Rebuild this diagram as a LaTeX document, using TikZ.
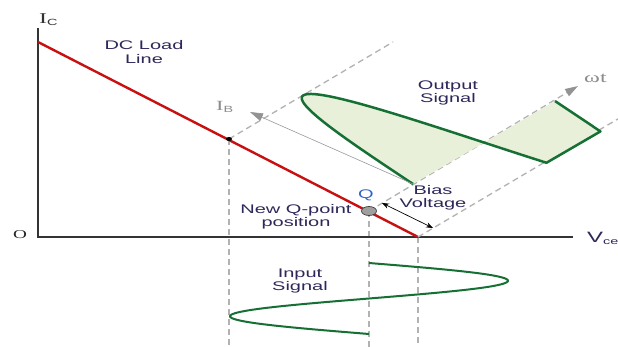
\documentclass[tikz,border=0pt]{standalone}
\usepackage{fontspec}
\setmainfont{Liberation Sans}
\newfontfamily\serifsym{Liberation Serif}
\usetikzlibrary{arrows.meta}
\definecolor{loadred}{RGB}{200,16,16}
\definecolor{sigdark}{RGB}{22,112,52}
\definecolor{sigfill}{RGB}{232,240,218}
\definecolor{guidegray}{RGB}{178,178,178}
\definecolor{txtnavy}{RGB}{45,40,90}
\definecolor{qblue}{RGB}{50,100,200}
\newcommand{\wtxt}[1]{\scalebox{1.6}[1]{#1}}

\begin{document}
\begin{tikzpicture}[
  x=1pt, y=-1pt,
  axis/.style={draw=black!80, line width=1.6pt},
  load/.style={draw=loadred, line width=2.4pt},
  guide/.style={draw=guidegray, line width=1.3pt, dash pattern=on 6pt off 4pt},
  wave/.style={draw=sigdark, line width=2.5pt, line join=round},
  ibaxis/.style={draw=gray!80, line width=0.6pt, -{Triangle[width=8pt,length=13pt,color=gray!85]}},
  bias/.style={draw=black, line width=0.7pt, {Stealth[length=7pt]}-{Stealth[length=7pt]}},
  lbl/.style={align=center, text=txtnavy, inner sep=0pt, font=\fontsize{12.5}{13.3}\selectfont},
  sym/.style={anchor=base west, inner sep=0pt}
]
\useasboundingbox (0,0) rectangle (618,347);
\clip (0,0) rectangle (618,347);
\fill[white] (0,0) rectangle (618,347);

% points on the graph
\coordinate (bottom) at (0,347);
\coordinate (ictop) at (38,28);
\coordinate (orig) at (38,237);
\coordinate (vcend) at (573,237);
\coordinate (icmax) at (38,42);
\coordinate (bdot) at (229,139);
\coordinate (qpt) at (369,211);
\coordinate (vcut) at (418,237);
\coordinate (ibend) at (393,42);
\coordinate (wtip) at (578,86);
\coordinate (cutend) at (628,113);
\coordinate (o) at (413,184);
\coordinate (ibtip) at (250,112);
\coordinate (bvtop) at (382,203);
\coordinate (bvbot) at (433,228);

% projections down to the input
\draw[guide] (bdot) -- (bdot |- bottom);
\draw[guide] (qpt) -- (qpt |- bottom);
\draw[guide] (vcut) -- (vcut |- bottom);

% axes and load line
\draw[axis] (ictop) -- (orig) -- (vcend);
\draw[load] (icmax) -- (vcut);

% time axes of the output
\draw[guide] (bdot) -- (ibend);
\draw[guide, -{Triangle[width=8pt,length=13pt,color=gray!85]}] (qpt) -- (wtip);
\draw[guide] (vcut) -- (cutend);

% output signal (clipped below)
\begin{scope}[shift={(o)}, x={(22.6pt,13.2pt)}, y={(-145pt,68pt)}]
  \fill[sigfill] plot[domain=0:3.5235, samples=80, smooth] (\x,{sin(\x r)})
    -- plot[domain=5.9013:6.2832, samples=10] (\x,{sin(\x r)}) -- cycle;
  \draw[wave] plot[domain=0:3.5235, samples=80, smooth] (\x,{sin(\x r)})
    -- plot[domain=5.9013:6.2832, samples=10] (\x,{sin(\x r)});
\end{scope}

% input signal
\draw[wave, line width=2pt] plot[domain=0:2*pi, samples=100, smooth]
  ({369+139*sin(\x r)}, {263+71*\x/(2*pi)});

\draw[ibaxis] (o) -- (ibtip);
\draw[bias] (bvtop) -- (bvbot);

\fill (bdot) ellipse [x radius=3, y radius=2];
\filldraw[fill=gray!75, draw=black!75, line width=0.7pt] (qpt) ellipse [x radius=7.5, y radius=4.5];

% labels
\node[lbl] (dcload) at (144,52) {\wtxt{DC Load}\\\wtxt{Line}};
\node[lbl] (outsig) at (448,93) {\wtxt{Output}\\\wtxt{Signal}};
\node[lbl] (biaslab) at (433,198) {\wtxt{Bias}\\\wtxt{Voltage}};
\node[lbl] (newq) at (296,217) {\wtxt{New Q-point}\\\wtxt{position}};
\node[lbl] (insig) at (300,281) {\wtxt{Input}\\\wtxt{Signal}};
\node[lbl, text=qblue] (qlab) at (366,195) {\wtxt{Q}};
\node[sym, text=black!80, font=\fontsize{15}{15}\selectfont] (iclab) at (39,24)
  {\wtxt{{\serifsym I}\raisebox{-2pt}{\fontsize{9}{9}\selectfont C}}};
\node[sym, text=gray!90, font=\fontsize{14}{14}\selectfont] (iblab) at (216,111)
  {\wtxt{{\serifsym I}\raisebox{-2pt}{\fontsize{9}{9}\selectfont B}}};
\node[sym, text=gray!90, font=\fontsize{15}{15}\selectfont] (wtlab) at (584,83)
  {\wtxt{\serifsym ωt}};
\node[sym, text=txtnavy, font=\fontsize{15}{15}\selectfont] (vcelab) at (587,243)
  {\wtxt{V\raisebox{-2pt}{\fontsize{9}{9}\selectfont ce}}};
\node[sym, text=black!85, font=\fontsize{12}{12}\selectfont] (olab) at (13,239)
  {\wtxt{\serifsym O}};
\end{tikzpicture}
\end{document}
